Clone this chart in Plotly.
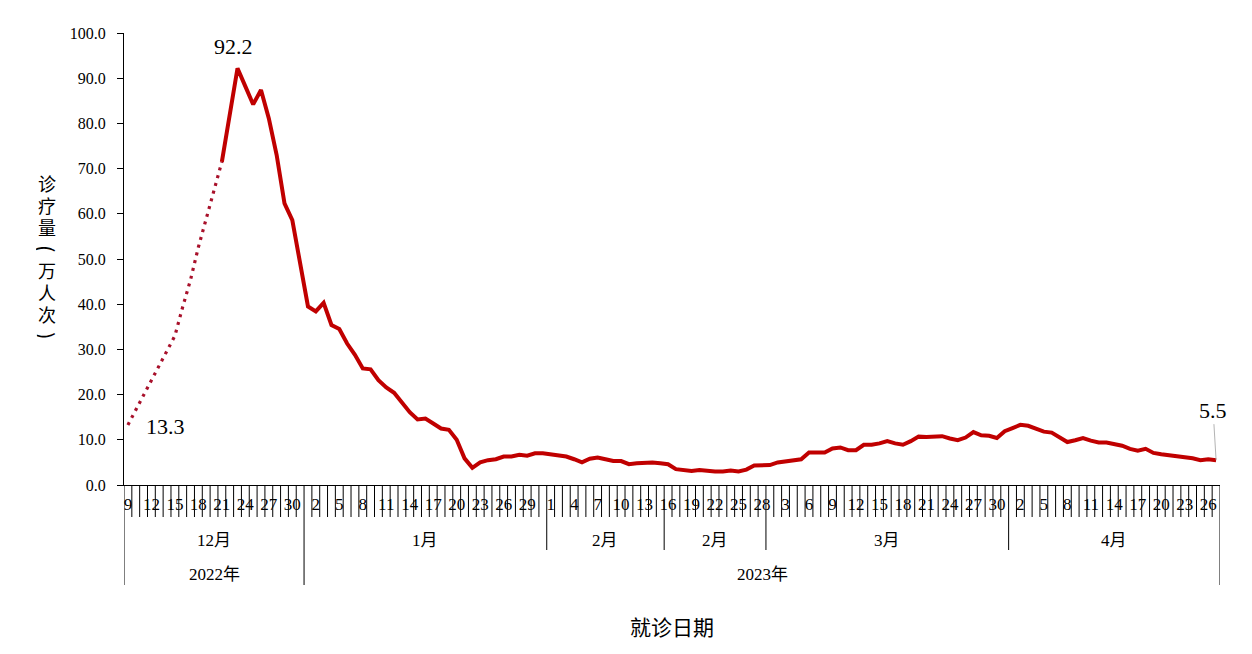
import pandas as pd
import plotly.graph_objects as go

# ---------------- data ----------------
dates = [d.strftime("%Y-%m-%d") for d in pd.date_range("2022-12-09", "2023-04-27", freq="D")]
day_numbers = [int(d[-2:]) for d in dates]

visits = [
    13.3, 16.6, 19.7, 23.0, 26.3, 29.9, 33.0, 39.4, 45.4, 52.6,
    58.8, 65.3, 71.5, 81.9, 92.2, 88.2, 84.2, 87.4, 81.1, 73.0,
    62.3, 58.6, 49.0, 39.5, 38.4, 40.3, 35.4, 34.5, 31.3, 28.8,
    25.8, 25.6, 23.2, 21.6, 20.4, 18.4, 16.1, 14.5, 14.7, 13.6,
    12.5, 12.2, 10.0, 5.9, 3.8, 5.0, 5.5, 5.7, 6.3, 6.3,
    6.7, 6.5, 7.0, 7.0, 6.8, 6.4, 6.3, 5.7, 5.0, 5.8,
    6.1, 5.7, 5.3, 5.3, 4.6, 4.8, 5.0, 5.0, 4.8, 4.6,
    3.5, 3.2, 3.1, 3.3, 3.1, 3.0, 3.0, 3.2, 3.0, 3.4,
    4.3, 4.4, 4.4, 5.0, 5.3, 5.4, 5.7, 7.2, 7.2, 7.2,
    8.1, 8.3, 7.7, 7.7, 8.9, 8.9, 9.2, 9.7, 9.2, 8.9,
    9.7, 10.7, 10.6, 10.6, 10.8, 10.3, 9.9, 10.5, 11.7, 11.0,
    10.9, 10.4, 11.9, 12.6, 13.3, 13.1, 12.5, 11.8, 11.6, 10.6,
    9.5, 9.9, 10.4, 9.8, 9.4, 9.4, 9.0, 8.7, 8.0, 7.6,
    8.0, 7.1, 6.8, 6.6, 6.4, 6.3, 5.9, 5.5, 5.7, 5.5,
]

dotted_end = 12  # estimated part (Dec 9 - Dec 21) drawn dotted

month_labels = ["12月", "1月", "2月", "2月", "3月", "4月"]
month_lengths = [23, 31, 15, 13, 31, 27]
year_labels = ["2022年", "2023年"]
year_lengths = [23, 117]

y_title = "诊疗量（万人次）"
x_title = "就诊日期"

peak_label = "92.2"
start_label = "13.3"
end_label = "5.5"

# ---------------- styles ----------------
RED = "#C00000"
DOT_RED = "#A8102A"
SERIF = "Liberation Serif, Times New Roman, Noto Sans CJK SC, serif"
SANS = "Noto Sans CJK SC, sans-serif"

n = len(dates)
PLOT_H = 452.0
PLOT_W = 1096.0

fig = go.Figure()
fig.add_trace(go.Scatter(
    x=dates[:dotted_end + 1], y=visits[:dotted_end + 1], mode="lines",
    line=dict(color=DOT_RED, width=3.2, dash="3px,5px"),
    hoverinfo="skip", showlegend=False,
))
fig.add_trace(go.Scatter(
    x=dates[dotted_end:], y=visits[dotted_end:], mode="lines",
    line=dict(color=RED, width=4),
    showlegend=False,
))

# multi-level category axis lines
Y_DAY = -32 / PLOT_H
Y_MONTH = -65 / PLOT_H
Y_YEAR = -100 / PLOT_H
shapes = []
month_bounds = set()
acc = 0
for L in month_lengths:
    acc += L
    month_bounds.add(acc)
year_bounds = set()
acc = 0
for L in year_lengths:
    acc += L
    year_bounds.add(acc)
for b in range(n + 1):
    if b == 0 or b in year_bounds:
        y1 = Y_YEAR
    elif b in month_bounds:
        y1 = Y_MONTH
    else:
        y1 = Y_DAY
    shapes.append(dict(type="line", xref="x", yref="paper", x0=b - 0.5, x1=b - 0.5,
                       y0=0, y1=y1, line=dict(color="black", width=1)))

annotations = []
start = 0
for lab, L in zip(month_labels, month_lengths):
    annotations.append(dict(x=start + L / 2 - 0.5, y=-55 / PLOT_H, xref="x", yref="paper",
                            xanchor="center", yanchor="middle",
                            text=lab, showarrow=False,
                            font=dict(family=SERIF, size=17, color="black")))
    start += L
start = 0
for lab, L in zip(year_labels, year_lengths):
    annotations.append(dict(x=start + L / 2 - 0.5, y=-89 / PLOT_H, xref="x", yref="paper",
                            xanchor="center", yanchor="middle",
                            text=lab, showarrow=False,
                            font=dict(family=SERIF, size=17, color="black")))
    start += L

# value labels
peak_i = visits.index(max(visits))
annotations.append(dict(x=dates[peak_i], y=visits[peak_i], text=peak_label, showarrow=False,
                        xanchor="center", yanchor="middle",
                        xshift=-4, yshift=22, font=dict(family=SERIF, size=22, color="black")))
annotations.append(dict(x=dates[0], y=visits[0], text=start_label, showarrow=False,
                        xanchor="center", yanchor="middle",
                        xshift=38, yshift=-2, font=dict(family=SERIF, size=22, color="black")))
annotations.append(dict(x=dates[-1], y=visits[-1], text=end_label, showarrow=True,
                        arrowhead=0, arrowwidth=0.8, arrowcolor="#A0A0A0", ax=-3, ay=-50,
                        standoff=0, font=dict(family=SERIF, size=22, color="black")))

# y-axis title (vertical stacked characters; parentheses rotated to vertical form)
for k, ch in enumerate(y_title):
    py = 183 + k * 21.7
    is_paren = ch in "（）"
    annotations.append(dict(
        x=(47 - 124) / PLOT_W, y=(485 - py) / PLOT_H, xref="paper", yref="paper",
        xanchor="center", yanchor="middle",
        text={"（": "(", "）": ")"}.get(ch, ch), showarrow=False,
        textangle=90 if is_paren else 0,
        height=21,
        font=dict(family=SANS, size=18 if not is_paren else 22, color="black"),
    ))
# x-axis title
annotations.append(dict(x=0.5, y=(485 - 626) / PLOT_H, xref="paper", yref="paper",
                        xanchor="center", yanchor="middle",
                        text=x_title, showarrow=False,
                        font=dict(family=SANS, size=21, color="black")))

# page body has an 8px margin: figure is placed at (8, 8) in the window
fig.update_layout(
    width=1244, height=646, autosize=False,
    margin=dict(l=116, r=32, t=25, b=169),
    plot_bgcolor="white", paper_bgcolor="white",
    shapes=shapes, annotations=annotations,
    showlegend=False,
)
fig.update_xaxes(
    type="category", range=[-0.5, n - 0.5],
    tickmode="array", tickvals=dates[::3], ticktext=[str(d) for d in day_numbers[::3]],
    tickangle=0, ticks="", ticklabelstandoff=4,
    showline=True, linecolor="black", linewidth=1,
    showgrid=False, zeroline=False,
    tickfont=dict(family=SERIF, size=17, color="black"),
)
fig.update_yaxes(
    range=[0, 100], dtick=10, tickformat=".1f",
    ticks="outside", ticklen=6, tickcolor="black", ticklabelstandoff=8,
    showline=True, linecolor="black", linewidth=1,
    showgrid=False, zeroline=False,
    tickfont=dict(family=SERIF, size=16, color="black"),
)

fig.write_html("out.html")
